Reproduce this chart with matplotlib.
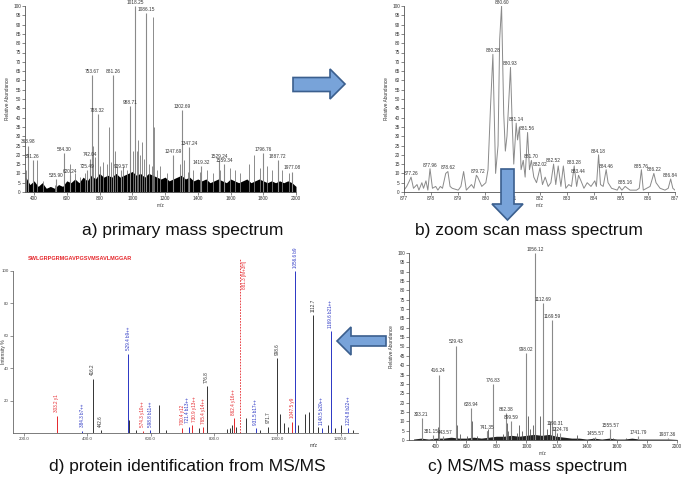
import matplotlib
matplotlib.use('Agg')
import matplotlib.pyplot as plt
from matplotlib.patches import Polygon
import numpy as np

plt.rcParams['font.family'] = ['Liberation Sans', 'DejaVu Sans']

# ------------------------------- DATA ---------------------------------------#

# a) primary mass spectrum
a_label_mz = [363.98, 391.26, 535.90, 584.30, 620.24, 725.49, 742.04, 753.67, 788.32,
              881.26, 929.57, 988.71, 1018.25, 1086.15, 1247.69, 1302.69, 1347.24,
              1419.32, 1529.24, 1559.34, 1796.76, 1887.72, 1977.08]
a_label_int = [25, 17, 7, 21, 9, 12, 18, 63, 42, 63, 12, 46, 100, 96, 20, 44, 24,
               14, 17, 15, 21, 17, 11]
a_bg_mz = [353, 418, 455, 526, 618, 649, 680, 710, 740, 760, 771, 802, 822, 843, 855,
           869, 894, 908, 945, 965, 986, 1002, 1027, 1037, 1047, 1057, 1071, 1100,
           1118, 1129, 1135, 1149, 1169, 1210, 1251, 1292, 1316, 1343, 1373, 1414,
           1455, 1496, 1537, 1598, 1629, 1659, 1710, 1741, 1782, 1822, 1853, 1914, 1955]
a_bg_int = [12, 17, 6, 4, 15, 10, 8, 10, 15, 25, 19, 14, 16, 15, 35, 16, 22, 14, 14,
            12, 28, 22, 22, 28, 20, 27, 18, 15, 14, 94, 35, 12, 14, 10, 12, 15, 17, 11,
            12, 11, 12, 10, 12, 13, 12, 10, 15, 20, 13, 14, 12, 12, 10]
a_grass_mz = np.arange(350, 2001, 25)
a_grass_int = [8, 4, 6, 3, 5, 2, 3, 2, 4, 3, 6, 5, 7, 5, 8, 6, 9, 7, 10, 8, 9, 8, 10,
               8, 9, 10, 11, 9, 10, 8, 10, 9, 8, 7, 8, 6, 7, 8, 9, 7, 8, 6, 7, 6, 7, 5,
               6, 7, 6, 5, 7, 6, 5, 6, 7, 5, 6, 7, 6, 5, 6, 5, 6, 5, 6, 5, 3]

# b) zoom scan mass spectrum (profile)
b_mz = [877.0, 877.1, 877.2, 877.26, 877.35, 877.48, 877.55, 877.66, 877.72, 877.81,
        877.88, 877.96, 878.05, 878.17, 878.25, 878.34, 878.42, 878.54, 878.62, 878.7,
        878.78, 879.0, 879.1, 879.2, 879.3, 879.49, 879.58, 879.67, 879.72, 879.87,
        880.02, 880.1, 880.19, 880.28, 880.38, 880.47, 880.53, 880.6, 880.68, 880.74,
        880.8, 880.93, 880.99, 881.05, 881.14, 881.19, 881.26, 881.32, 881.4, 881.47,
        881.56, 881.63, 881.7, 881.79, 881.89, 882.02, 882.11, 882.21, 882.32, 882.42,
        882.52, 882.6, 882.69, 882.79, 882.88, 882.97, 883.08, 883.18, 883.28, 883.37,
        883.44, 883.53, 883.64, 883.76, 883.9, 884.04, 884.1, 884.18, 884.25, 884.35,
        884.46, 884.53, 884.66, 884.87, 884.94, 885.04, 885.16, 885.34, 885.58, 885.68,
        885.76, 885.83, 886.08, 886.22, 886.3, 886.45, 886.63, 886.75, 886.84, 886.92,
        887.0]
b_int = [1, 3, 6, 8, 2, 4, 1, 5, 2, 6, 1, 12.5, 2, 3, 1, 3, 2, 10, 11, 3, 2, 1, 3, 11,
         1, 4, 2, 9, 8, 3, 5, 12, 45, 74, 10, 25, 82, 100, 42, 22, 30, 67, 38, 15, 37,
         28, 35, 12, 17, 8, 32, 12, 17, 8, 5, 13, 4, 8, 3, 5, 15, 4, 14, 3, 14, 2, 4, 3,
         14, 3, 9, 6, 2, 5, 3, 6, 3, 20, 4, 3, 12, 5, 2, 1, 3, 1, 3, 1, 1, 2, 12, 1, 3,
         10, 5, 2, 1, 2, 7, 2, 1]
b_label_mz = [877.26, 877.96, 878.62, 879.72, 880.28, 880.60, 880.93, 881.14, 881.56,
              881.70, 882.02, 882.52, 883.28, 883.44, 884.18, 884.46, 885.16, 885.76,
              886.22, 886.84]
b_label_int = [8, 12.5, 11, 9, 74, 100, 67, 37, 32, 17, 13, 15, 14, 9, 20, 12, 3, 12,
               10, 7]

# c) MS/MS mass spectrum
c_label_mz = [303.21, 381.15, 416.24, 443.57, 529.43, 628.94, 741.35, 776.83, 862.38,
              899.59, 998.02, 1056.12, 1112.69, 1169.59, 1190.31, 1224.76, 1455.57,
              1555.57, 1741.79, 1937.36]
c_label_int = [11.5, 2.5, 35, 2, 50.5, 17, 5, 30, 14.5, 10, 46.5, 100, 73, 64, 7, 3.5,
               1.5, 6, 2, 1]
c_bg_mz = [415, 537, 559, 603, 636, 670, 736, 747, 846, 868, 880, 935, 952, 968, 1012,
           1023, 1045, 1089, 1107, 1134, 1156, 1172, 1200, 1333, 1443, 1576, 1664]
c_bg_int = [7, 8, 3, 2, 10, 2, 5, 6, 3, 9, 5, 4, 8, 5, 13, 6, 8, 13, 14, 6, 10, 18, 4,
            2.5, 1, 1, 1]
c_grass_mz = np.arange(250, 2001, 50)
c_grass_int = [0.5, 1, 0.5, 1, 1, 1.5, 1, 1, 1.5, 1, 1.5, 2, 2, 2.5, 2, 2.5, 3, 2.5, 3,
               2, 1.5, 1, 1, 0.5, 1, 0.5, 1, 0.5, 0.5, 1, 0.5, 0.5, 0.5, 0.5, 0.5, 0.3]

# d) protein identification from MS/MS
d_sequence = 'SWLGRPGRMGAVPGSVMSAVLMGGAR'
d_mz = [303.2, 384.3, 416.2, 442.6, 529.4, 531.9, 554.0, 574.3, 598.8, 627.2, 648.0,
        700.4, 721.4, 730.9, 753.0, 765.4, 776.8, 840.0, 850.0, 857.0, 862.4, 868.0,
        899.6, 931.5, 946.0, 971.7, 998.6, 1009.0, 1020.0, 1035.0, 1047.5, 1056.6,
        1067.0, 1086.0, 1100.0, 1112.7, 1130.0, 1140.5, 1159.0, 1169.6, 1182.0, 1200.0,
        1224.8, 1240.0]
d_int = [10.7, 1.5, 33.5, 2.0, 49.0, 8.0, 2.0, 1.5, 2.0, 17.0, 2.0, 3.0, 4.0, 5.0, 3.0,
         3.5, 29.0, 2.5, 3.0, 5.0, 9.0, 4.0, 9.0, 3.0, 2.0, 4.0, 46.0, 12.0, 6.0, 4.0,
         7.0, 100.0, 5.0, 12.0, 13.0, 73.0, 4.0, 3.0, 5.0, 63.0, 3.0, 5.0, 3.0, 2.0]
d_ion = ['y1', 'b7++', '', '', 'b9++', '', '', 'y10++', 'b11++', '', '', 'y12',
         'b13++', 'y13++', '', 'y14++', '', '', '', '', 'y16++', '', '', 'b17++', '', '',
         '', '', '', '', 'y9', 'b9', '', '', '', '', '', 'b20++', '', 'b21++', '', '',
         'b22++', '']
d_label = ['303.2', '384.3', '416.2', '442.6', '529.4', '', '', '574.3', '598.8', '', '',
           '700.4', '721.4', '730.9', '', '765.4', '776.8', '', '', '', '862.4', '', '',
           '931.5', '', '971.7', '998.6', '', '', '', '1047.5', '1056.6', '', '', '',
           '1112.7', '', '1140.5', '', '1169.6', '', '', '1224.8', '']
d_precursor_mz = 881.3
d_precursor_label = '881.3 [M+3H]'

captions = ['a) primary mass spectrum', 'b) zoom scan mass spectrum',
            'c) MS/MS mass spectrum', 'd) protein identification from MS/MS']

# ------------------------------ FUNCTIONS -----------------------------------#

W, H = 685, 480
SMALL = 3.4
fig = plt.figure(figsize=(W / 100, H / 100), dpi=100)


def px_axes(left, top, right, bottom):
    return fig.add_axes([left / W, 1 - bottom / H, (right - left) / W, (bottom - top) / H])


def style_thermo(ax, xlim, xticks):
    ax.set_xlim(*xlim)
    ax.set_ylim(0, 100)
    ax.set_yticks(range(0, 101, 5))
    ax.set_xticks(xticks)
    for s in ['top', 'right']:
        ax.spines[s].set_visible(False)
    for s in ['left', 'bottom']:
        ax.spines[s].set_color('#555555')
        ax.spines[s].set_linewidth(0.6)
    ax.tick_params(labelsize=SMALL, length=2, width=0.5, colors='#555555', pad=1,
                   labelcolor='#333333')
    ax.set_ylabel('Relative Abundance', fontsize=SMALL, labelpad=2, color='#333333')
    ax.set_xlabel('m/z', fontsize=SMALL, labelpad=1, color='#333333')
    ax.patch.set_alpha(0)


def label_peaks(ax, mz, inten, shift=None, fmt='{:.2f}'):
    # shift: piccoli spostamenti orizzontali delle etichette per non sovrapporle
    shift = shift or {}
    for m, h in zip(mz, inten):
        ax.text(m + shift.get(m, 0), h + 0.6, fmt.format(m), ha='center', va='bottom',
                fontsize=SMALL, color='#333333')


def arrow(points):
    poly = Polygon([(x / W, 1 - y / H) for x, y in points], closed=True,
                   transform=fig.transFigure, facecolor='#78a3d9',
                   edgecolor='#3b5f8e', linewidth=1.2, zorder=10)
    fig.patches.append(poly)


# -------------------------------- PLOT --------------------------------------#

# a) primary
ax_a = px_axes(25, 6, 296, 192)
style_thermo(ax_a, (345, 2000), range(400, 2001, 200))
ax_a.fill_between(a_grass_mz, 0, a_grass_int, color='black', lw=0)
ax_a.vlines(a_bg_mz, 0, a_bg_int, color='#7a7a7a', lw=0.6)
ax_a.vlines(a_label_mz, 0, a_label_int, color='#8a8a8a', lw=0.8)
label_peaks(ax_a, a_label_mz, a_label_int)

# b) zoom scan
ax_b = px_axes(404, 6, 675, 192)
style_thermo(ax_b, (877, 887), range(877, 888))
ax_b.plot(b_mz, b_int, color='#8a8a8a', lw=0.7)
label_peaks(ax_b, b_label_mz, b_label_int)

# c) MS/MS
ax_c = px_axes(409, 253, 677, 440)
style_thermo(ax_c, (220, 2000), range(400, 2001, 200))
ax_c.fill_between(c_grass_mz, 0, c_grass_int, color='#222222', lw=0)
ax_c.vlines(c_bg_mz, 0, c_bg_int, color='#555555', lw=0.6)
ax_c.vlines(c_label_mz, 0, c_label_int, color='#8a8a8a', lw=0.8)
label_peaks(ax_c, c_label_mz, c_label_int, shift={381.15: -15, 443.57: 15})

# d) identification
ax_d = px_axes(13, 271, 358, 433)
ax_d.set_xlim(165, 1255)
ax_d.set_ylim(0, 100)
ax_d.set_yticks([20, 40, 60, 80, 100])
ax_d.set_xticks(range(200, 1201, 200))
ax_d.set_xticklabels(['{:.1f}'.format(v) for v in range(200, 1201, 200)])
for s in ['top', 'right']:
    ax_d.spines[s].set_visible(False)
for s in ['left', 'bottom']:
    ax_d.spines[s].set_color('#666666')
    ax_d.spines[s].set_linewidth(0.6)
ax_d.tick_params(labelsize=3.2, length=2, width=0.5, colors='#666666', pad=1,
                 labelcolor='#444444')
ax_d.set_ylabel('Intensity %', fontsize=3.6, color='#333333')
ax_d.yaxis.set_label_coords(-0.02, 0.5)
ax_d.set_xlabel('m/z', fontsize=3.6, labelpad=1, color='#333333')
ax_d.xaxis.set_label_coords(0.87, -0.06)
ax_d.patch.set_alpha(0)

ion_colors = {'y': '#e5262b', 'b': '#2a35c4', '': '#333333'}
d_colors = [ion_colors[i[:1]] for i in d_ion]
d_shift = {721.4: -5, 730.9: 7}
ax_d.vlines(d_mz, 0, d_int, colors=d_colors, lw=0.7)
for m, h, ion, lab, col in zip(d_mz, d_int, d_ion, d_label, d_colors):
    if lab:
        ax_d.text(m + d_shift.get(m, 0), h + 2, (lab + ' ' + ion).strip(), rotation=90,
                  ha='center', va='bottom', fontsize=3.3, color=col)
ax_d.vlines([d_precursor_mz], 0, 108, colors='#e5262b', lw=0.6,
            linestyles=(0, (2, 1.5)), clip_on=False)
ax_d.text(d_precursor_mz + 6, 106, d_precursor_label, rotation=90, ha='left',
          va='top', fontsize=3.3, color='#e5262b')
fig.text(80 / W, 1 - 258 / H, d_sequence, ha='center', va='center', fontsize=4,
         color='#e5262b', fontweight='bold')

# arrows between the panels
arrow([(293, 77.5), (330, 77.5), (330, 69), (345, 84), (330, 99), (330, 91.5),
       (293, 91.5)])
arrow([(501, 169), (514, 169), (514, 204), (523, 204), (507.5, 220), (492, 204),
       (501, 204)])
arrow([(386, 336), (351, 336), (351, 327), (337, 341), (351, 355), (351, 346),
       (386, 346)])

# captions
for (x, y), txt in zip([(183, 230), (529, 230), (528, 466), (187, 466)], captions):
    fig.text(x / W, 1 - y / H, txt, ha='center', va='center', fontsize=12.5,
             color='#111111')

fig.savefig('out.png', dpi=100)
